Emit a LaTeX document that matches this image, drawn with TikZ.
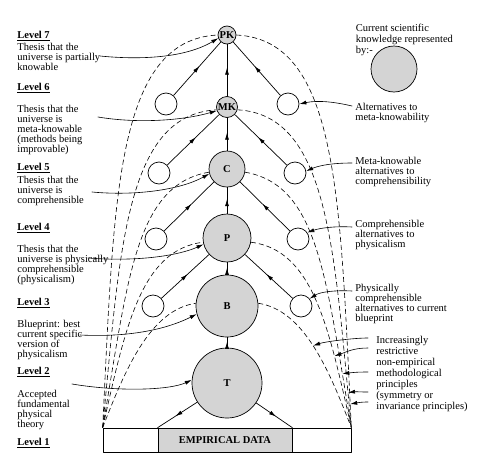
\documentclass[tikz,border=0pt]{standalone}
\usepackage{fontspec}
\setmainfont{Liberation Serif}
\usetikzlibrary{decorations.markings}
\usetikzlibrary{arrows.meta}
\definecolor{knowngray}{gray}{0.83}
\newcommand{\diagfont}{\fontsize{10.5}{10}\selectfont}
\newcommand{\widefont}{\fontsize{10.5}{11}\selectfont}
\tikzstyle{every node}=[font=\diagfont]
\tikzstyle{every path}=[line width=0.7pt,line cap=round,line join=round]
\tikzstyle{known}=[circle,draw,fill=knowngray,inner sep=0pt,font=\diagfont\bfseries]
\tikzstyle{alt}=[circle,draw,fill=white,minimum size=22pt,inner sep=0pt]
\tikzstyle{levelname}=[anchor=base west,inner sep=0pt,font=\diagfont\bfseries]
\tikzstyle{thesis}=[anchor=north west,align=left,inner sep=0pt]
\tikzstyle{arch}=[dash pattern=on 5pt off 3pt,line width=0.6pt,line cap=butt]
\tikzstyle{pointer}=[-{Latex[length=7pt,width=4pt]},line width=0.6pt]

\begin{document}
\begin{tikzpicture}[x=1pt,y=-1pt]
    % y runs downwards, units are points
    \useasboundingbox (0,0) rectangle (477,469);

    % Empirical data at the base
    \node[draw,minimum width=248pt,minimum height=24pt,inner sep=0pt] (base) at (227,440) {};
    \node[draw,fill=knowngray,minimum width=134pt,minimum height=24pt,inner sep=0pt,
        font=\diagfont\bfseries] (data) at (225,440) {EMPIRICAL DATA};

    % Current knowledge, level by level
    \node[known,minimum size=70pt] (T) at (227,383) {T};
    \node[known,minimum size=62pt] (B) at (227,306) {B};
    \node[known,minimum size=48pt] (P) at (227,238) {P};
    \node[known,minimum size=36pt] (C) at (227,169) {C};
    \node[known,minimum size=21pt] (MK) at (227,107) {MK};
    \node[known,minimum size=18pt] (PK) at (227,35) {PK};

    % Alternatives on both sides
    \node[alt] (altBl) at (153,306) {};
    \node[alt] (altBr) at (301,306) {};
    \node[alt] (altPl) at (156,239) {};
    \node[alt] (altPr) at (298,239) {};
    \node[alt] (altCl) at (159,173) {};
    \node[alt] (altCr) at (295,173) {};
    \node[alt] (altMKl) at (166,104) {};
    \node[alt] (altMKr) at (288,104) {};

    % Legend
    \node[thesis,font=\widefont] (legendtext) at (355.5,23.6) {Current scientific\\knowledge represented\\by:-};
    \node[known,minimum size=46pt] (legend) at (394,69) {};

    % Dashed arches, west side
    \draw[arch] (base.north west) .. controls (114,200) and (115,40) .. (PK.west);
    \draw[arch] (base.north west) .. controls (120,250) and (125,115) .. (MK.195);
    \draw[arch] (base.north west) .. controls (128,280) and (135,185) .. (C.190);
    \draw[arch] (base.north west) .. controls (125,330) and (140,250) .. (P.190);
    \draw[arch] (base.north west) .. controls (125,370) and (150,310) .. (B.175);
    % Dashed arches, east side
    \draw[arch] (PK.east) .. controls (339,40) and (340,200) .. (base.north east)
        coordinate[pos=0.965] (tPK);
    \draw[arch] (MK.-15) .. controls (329,115) and (334,250) .. (base.north east)
        coordinate[pos=0.933] (tMK);
    \draw[arch] (C.-10) .. controls (319,185) and (326,280) .. (base.north east)
        coordinate[pos=0.872] (tC);
    \draw[arch] (P.-10) .. controls (314,250) and (329,330) .. (base.north east)
        coordinate[pos=0.74] (tP);
    \draw[arch] (B.5) .. controls (304,310) and (329,370) .. (base.north east)
        coordinate[pos=0.495] (tB);

    % Support flowing upwards
    \begin{scope}[line width=0.6pt,decoration={
            markings,
            mark=at position 0.55 with {\arrow{Latex[length=7pt,width=4pt]}}}
        ]
        \draw[postaction={decorate}] (T) -- (B);
        \draw[postaction={decorate}] (B) -- (P);
        \draw[postaction={decorate}] (P) -- (C);
        \draw[postaction={decorate}] (C) -- (MK);
        \draw[postaction={decorate}] (MK) -- (PK);
        \draw[postaction={decorate}] (altBl) -- (P);
        \draw[postaction={decorate}] (altBr) -- (P);
        \draw[postaction={decorate}] (altPl) -- (C);
        \draw[postaction={decorate}] (altPr) -- (C);
        \draw[postaction={decorate}] (altCl) -- (MK);
        \draw[postaction={decorate}] (altCr) -- (MK);
        \draw[postaction={decorate}] (altMKl) -- (PK);
        \draw[postaction={decorate}] (altMKr) -- (PK);
        % Theory down to the data
        \draw[postaction={decorate}] (T) -- (data.north west);
        \draw[postaction={decorate}] (T) -- (data.north east);
    \end{scope}

    % Level labels on the west side
    \node[levelname] (lev7) at (17,38.5) {\underline{Level 7}};
    \node[thesis] (th7) at (17,43) {Thesis that the\\universe is partially\\knowable};
    \node[levelname] (lev6) at (17,90.8) {\underline{Level 6}};
    \node[thesis] (th6) at (17,105.3) {Thesis that the\\universe is\\meta-knowable\\(methods being\\improvable)};
    \node[levelname] (lev5) at (17,170.8) {\underline{Level 5}};
    \node[thesis] (th5) at (17,176.3) {Thesis that the\\universe is\\comprehensible};
    \node[levelname] (lev4) at (17,230.2) {\underline{Level 4}};
    \node[thesis] (th4) at (17,244.6) {Thesis that the\\universe is physically\\comprehensible\\(physicalism)};
    \node[levelname] (lev3) at (17,305.2) {\underline{Level 3}};
    \node[thesis] (th3) at (17,319.6) {Blueprint: best\\current specific\\version of\\physicalism};
    \node[levelname] (lev2) at (17,374.2) {\underline{Level 2}};
    \node[thesis] (th2) at (17,389.6) {Accepted\\fundamental\\physical\\theory};
    \node[levelname] (lev1) at (17,445.2) {\underline{Level 1}};

    % Labels on the east side
    \node[thesis] (altMKtext) at (355,103) {Alternatives to\\meta-knowability};
    \node[thesis] (altCtext) at (355,157.3) {Meta-knowable\\alternatives to\\comprehensibility};
    \node[thesis] (altPtext) at (355,220.3) {Comprehensible\\alternatives to\\physicalism};
    \node[thesis] (altBtext) at (355,283.6) {Physically\\comprehensible\\alternatives to current\\blueprint};
    \node[thesis,font=\widefont] (ruletext) at (376,336.3) {Increasingly\\restrictive\\non-empirical\\methodological\\principles\\(symmetry or\\invariance principles)};

    % Start points of the pointers
    \coordinate (s7) at (100,56);
    \coordinate (s6) at (98,117);
    \coordinate (s5) at (92,192);
    \coordinate (s4) at (88,258);
    \coordinate (s3) at (80,335);
    \coordinate (s2) at (72,384);
    \coordinate (r6) at (352,106);
    \coordinate (r5) at (352,163);
    \coordinate (r4) at (352,227);
    \coordinate (r3) at (352,291);
    \coordinate (q1) at (368,338);
    \coordinate (q2) at (368,348);
    \coordinate (q3) at (368,372);
    \coordinate (q4) at (368,392);
    \coordinate (q5) at (368,402);

    % Pointers from the theses
    \draw[pointer] (s7) .. controls (140,60) and (185,58) .. (PK.200);
    \draw[pointer] (s6) .. controls (140,124) and (185,120) .. (MK.200);
    \draw[pointer] (s5) .. controls (135,196) and (180,190) .. (C.195);
    \draw[pointer] (s4) .. controls (140,262) and (180,255) .. (P.195);
    \draw[pointer] (s3) .. controls (140,338) and (175,325) .. (B.195);
    \draw[pointer] (s2) .. controls (120,392) and (170,390) .. (T.175);
    % Pointers to the alternatives
    \draw[pointer] (r6) .. controls (335,102) and (318,100) .. (altMKr.east);
    \draw[pointer] (r5) .. controls (330,163) and (318,166) .. (altCr.10);
    \draw[pointer] (r4) .. controls (335,226) and (320,228) .. (altPr.35);
    \draw[pointer] (r3) .. controls (335,290) and (320,292) .. (altBr.40);
    % Pointers to the dashed principles
    \draw[pointer] (q1) .. controls +(-15,0) and +(12,-4) .. (tB);
    \draw[pointer] (q2) .. controls +(-15,0) and +(12,-4) .. (tP);
    \draw[pointer] (q3) .. controls +(-12,0) and +(10,-1) .. (tC);
    \draw[pointer] (q4) .. controls +(-10,0) and +(8,-1) .. (tMK);
    \draw[pointer] (q5) .. controls +(-8,0) and +(6,-1) .. (tPK);

\end{tikzpicture}
\end{document}
